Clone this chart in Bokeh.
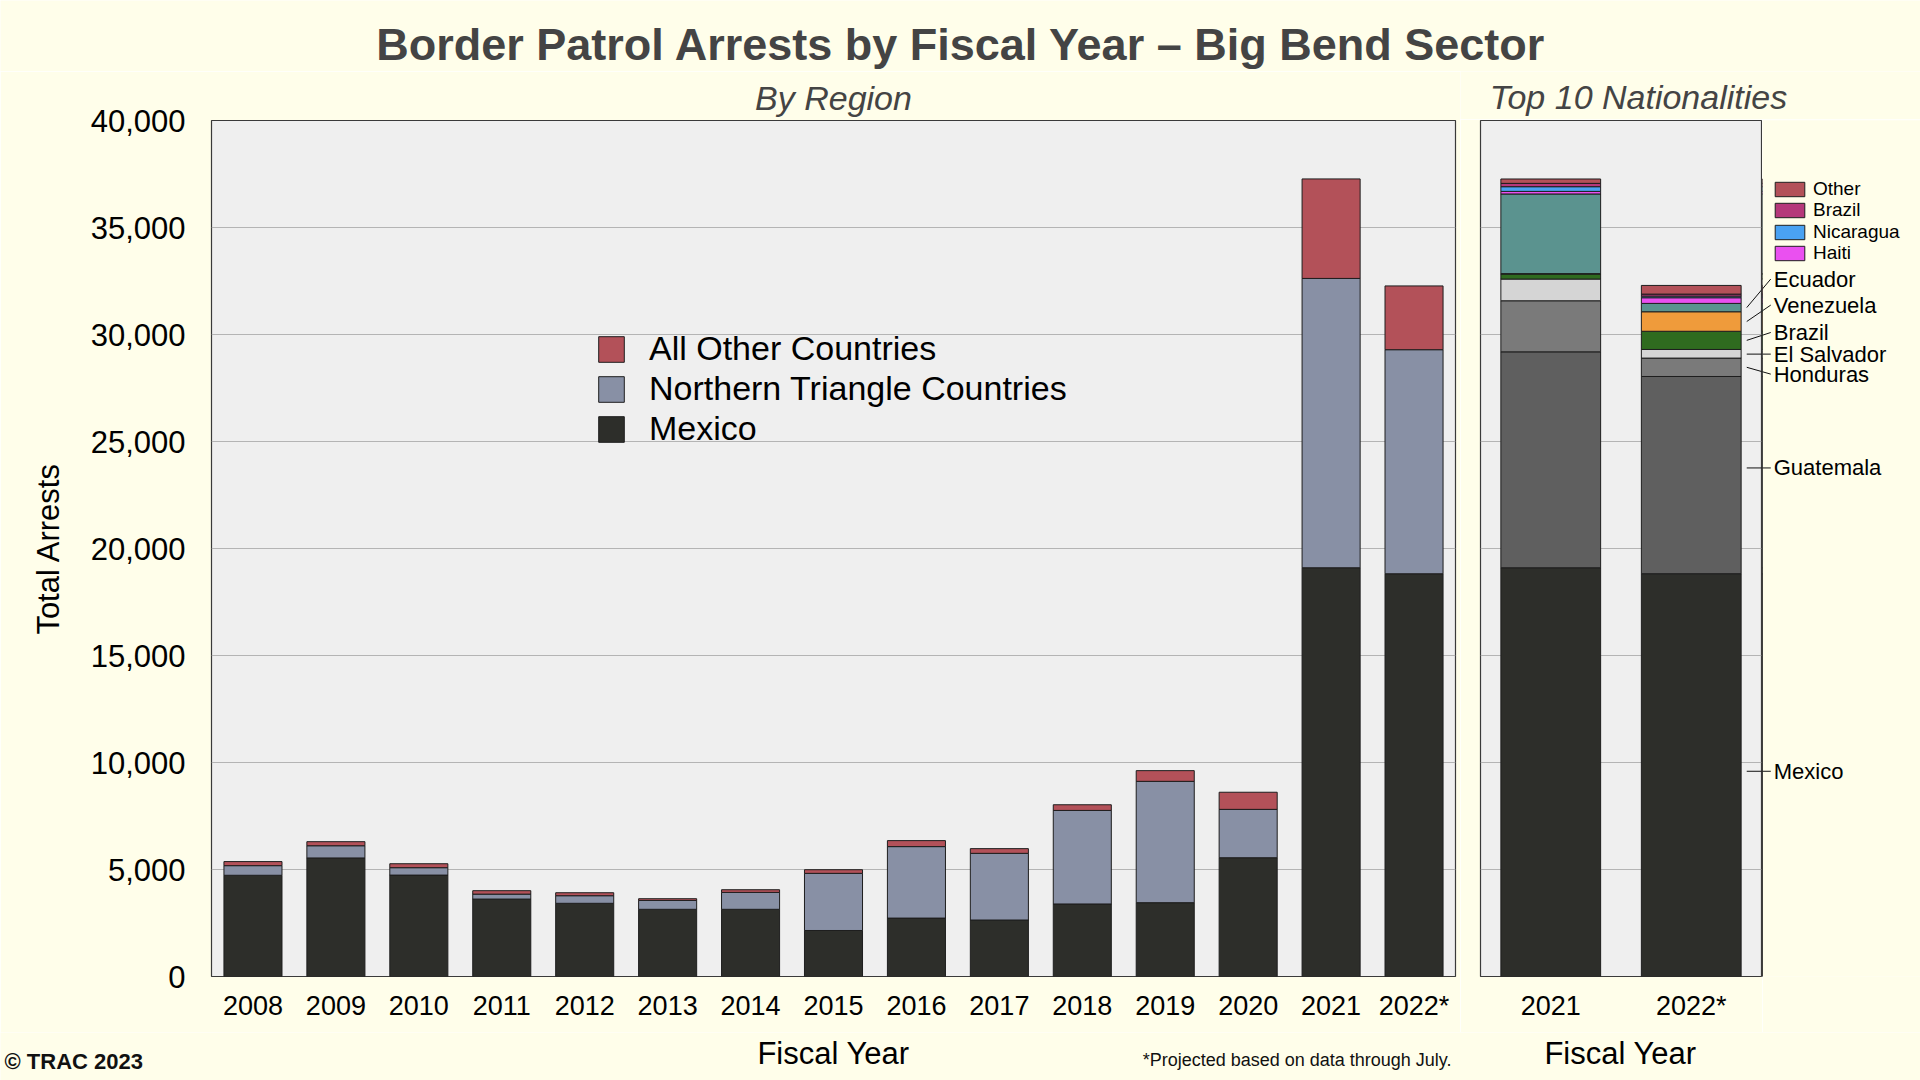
import numpy as np
from bokeh.plotting import figure
from bokeh.layouts import row, column
from bokeh.models import (Range1d, FixedTicker, NumeralTickFormatter, Legend,
                          LegendItem, Label, ColumnDataSource)
from bokeh.embed import file_html
from bokeh.resources import INLINE

# ---------------- data ----------------
years = ["2008", "2009", "2010", "2011", "2012", "2013", "2014", "2015",
         "2016", "2017", "2018", "2019", "2020", "2021", "2022*"]
mexico = [4730, 5540, 4740, 3620, 3420, 3140, 3140, 2150, 2730, 2640,
          3390, 3450, 5550, 19100, 18820]
northern_triangle = [450, 570, 345, 230, 355, 415, 790, 2670, 3340, 3115,
                     4370, 5670, 2260, 13520, 10470]
all_other = [190, 190, 185, 160, 140, 80, 125, 170, 280, 220,
             265, 500, 800, 4650, 2980]

top_years = ["2021", "2022*"]
nat_mexico = [19100, 18822]
nat_guatemala = [10090, 9216]
nat_honduras = [2386, 860]
nat_el_salvador = [1015, 402]
nat_brazil = [234, 851]
nat_venezuela = [20, 912]
nat_ecuador = [3722, 390]
nat_haiti = [120, 265]
nat_nicaragua = [220, 75]
nat_brazil_2 = [155, 95]
nat_other = [205, 405]

y_ticks = [0, 5000, 10000, 15000, 20000, 25000, 30000, 35000, 40000]

# ---------------- styles / layout ----------------
BG = "#fffeea"
PANEL = "#efefef"
GRID = "#b4b4b4"
FONT = "Liberation Sans"
region_colors = ["#2d2e2a", "#8890a5", "#b35159"]
nat_colors = ["#2d2e2a", "#5f5f5f", "#7a7a7a", "#d5d5d5", "#2f6b1f",
              "#ef9b3b", "#5b938f", "#ea50f0", "#4aa2f2", "#b5387a", "#b35159"]

TOTAL_W = 1920
TOP_H = 71           # main title strip
SUB_H = 48           # strip holding the right subtitle
FRAME_H = 856
BB = 56              # plot border bottom
FOOT_H = 48          # footer strip
P1_L, P1_FW, P1_R = 211, 1244, 5
P2_L, P2_FW, P2_R = 20, 281, 1
P1_W = P1_L + P1_FW + P1_R
P2_W = P2_L + P2_FW + P2_R
P4_W = TOTAL_W - P1_W - P2_W
P1_BT = SUB_H + 1
P2_BT = 1

yr = Range1d(0, 40000)


def strip(w, h):
    f = figure(width=w, height=h, x_range=Range1d(0, w), y_range=Range1d(0, h),
               output_backend="svg", toolbar_location=None,
               min_border_left=0, min_border_right=0, min_border_top=0, min_border_bottom=0,
               background_fill_color=BG, border_fill_color=BG, outline_line_color=None)
    f.axis.visible = False
    f.grid.visible = False
    return f


def lab(fig, x, y, text, size, style="normal", color="#000000", align="center"):
    fig.add_layout(Label(x=x, y=y, text=text, text_font=FONT, text_font_size=size,
                         text_font_style=style, text_color=color,
                         text_align=align, text_baseline="middle"))


# ---------------- title strip ----------------
p0 = strip(TOTAL_W, TOP_H)
lab(p0, 961, TOP_H - 44, "Border Patrol Arrests by Fiscal Year \u2013 Big Bend Sector",
    "45px", "bold", "#444444")

# ---------------- left: by region ----------------
p1 = figure(width=P1_W, height=P1_BT + FRAME_H + BB, x_range=Range1d(-0.5, 14.5), y_range=yr,
            output_backend="svg", toolbar_location=None,
            min_border_left=P1_L, min_border_right=P1_R, min_border_top=P1_BT,
            min_border_bottom=BB,
            background_fill_color=PANEL, border_fill_color=BG,
            outline_line_color="#3a3a3a", outline_line_width=1.2)
p1.title.text = "By Region"
p1.title.align = "center"
p1.title.text_font = FONT
p1.title.text_font_size = "34px"
p1.title.text_font_style = "italic"
p1.title.text_color = "#444444"
p1.title.standoff = 8

src1 = ColumnDataSource(dict(x=list(range(len(years))), mexico=mexico,
                             ntc=northern_triangle, other=all_other))
rs1 = p1.vbar_stack(["mexico", "ntc", "other"], x="x", width=0.70, source=src1,
                    fill_color=region_colors, line_color="#1e1e1e", line_width=1)

p1.xaxis.ticker = FixedTicker(ticks=list(range(len(years))))
p1.xaxis.major_label_overrides = {i: y for i, y in enumerate(years)}
p1.yaxis.ticker = FixedTicker(ticks=y_ticks)
p1.yaxis.formatter = NumeralTickFormatter(format="0,0")
for ax in (p1.xaxis, p1.yaxis):
    ax.axis_line_color = None
    ax.major_tick_line_color = None
    ax.minor_tick_line_color = None
    ax.major_tick_out = 0
    ax.major_label_text_font = FONT
    ax.major_label_text_color = "#000000"
p1.xaxis.major_label_text_font_size = "27px"
p1.xaxis.major_label_standoff = 14
p1.yaxis.major_label_text_font_size = "31px"
p1.yaxis.major_label_standoff = 26
p1.yaxis.axis_label = "Total Arrests"
p1.yaxis.axis_label_text_font = FONT
p1.yaxis.axis_label_text_font_size = "31px"
p1.yaxis.axis_label_text_font_style = "normal"
p1.yaxis.axis_label_text_color = "#000000"
p1.yaxis.axis_label_standoff = 22
p1.xgrid.grid_line_color = None
p1.ygrid.ticker = FixedTicker(ticks=y_ticks[1:-1])
p1.ygrid.grid_line_color = GRID

leg1 = Legend(items=[LegendItem(label="All Other Countries", renderers=[rs1[2]]),
                     LegendItem(label="Northern Triangle Countries", renderers=[rs1[1]]),
                     LegendItem(label="Mexico", renderers=[rs1[0]])],
              location=(384, 528), glyph_width=32, glyph_height=32, label_standoff=22,
              spacing=1, padding=0, margin=0, border_line_color=None,
              background_fill_alpha=0, label_text_font=FONT, label_text_font_size="34px",
              label_text_color="#000000")
p1.add_layout(leg1, "center")

# ---------------- right: top 10 nationalities ----------------
p5 = strip(P2_W + P4_W, SUB_H)
lab(p5, 1638 - P1_W, SUB_H - (96 - TOP_H), "Top 10 Nationalities", "34px", "italic", "#444444")

px_per_unit = P2_FW / 2.0
p2 = figure(width=P2_W, height=P2_BT + FRAME_H + BB, x_range=Range1d(-0.5, 1.5), y_range=yr,
            output_backend="svg", toolbar_location=None,
            min_border_left=P2_L, min_border_right=P2_R, min_border_top=P2_BT,
            min_border_bottom=BB,
            background_fill_color=PANEL, border_fill_color=BG,
            outline_line_color="#3a3a3a", outline_line_width=1.2)

nat_names = ["mexico", "guatemala", "honduras", "el_salvador", "brazil", "venezuela",
             "ecuador", "haiti", "nicaragua", "brazil_2", "other"]
nat_values = [nat_mexico, nat_guatemala, nat_honduras, nat_el_salvador, nat_brazil,
              nat_venezuela, nat_ecuador, nat_haiti, nat_nicaragua, nat_brazil_2, nat_other]
src2 = ColumnDataSource(dict(x=[0, 1], **{n: v for n, v in zip(nat_names, nat_values)}))
rs2 = p2.vbar_stack(nat_names, x="x", width=0.71, source=src2,
                    fill_color=nat_colors, line_color="#1e1e1e", line_width=1)

p2.yaxis.visible = False
p2.xaxis.ticker = FixedTicker(ticks=[0, 1])
p2.xaxis.major_label_overrides = {0: top_years[0], 1: top_years[1]}
p2.xaxis.axis_line_color = None
p2.xaxis.major_tick_line_color = None
p2.xaxis.minor_tick_line_color = None
p2.xaxis.major_tick_out = 0
p2.xaxis.major_label_text_font = FONT
p2.xaxis.major_label_text_font_size = "27px"
p2.xaxis.major_label_text_color = "#000000"
p2.xaxis.major_label_standoff = 14
p2.xgrid.grid_line_color = None
p2.ygrid.ticker = FixedTicker(ticks=y_ticks[1:-1])
p2.ygrid.grid_line_color = GRID

# ---------------- annotation strip right of the nationalities panel ----------------
x4_start = 1.5 + P2_R / px_per_unit
p4 = figure(width=P4_W, height=P2_BT + FRAME_H + BB,
            x_range=Range1d(x4_start, x4_start + P4_W / px_per_unit),
            y_range=yr, output_backend="svg", toolbar_location=None,
            min_border_left=0, min_border_right=0, min_border_top=P2_BT, min_border_bottom=BB,
            background_fill_color=BG, border_fill_color=BG, outline_line_color=None)
p4.axis.visible = False
p4.grid.visible = False

# the same stack, lying outside this strip's x range, gives the legend its swatches
rs4 = p4.vbar_stack(nat_names, x="x", width=0.71, source=src2,
                    fill_color=nat_colors, line_color="#1e1e1e", line_width=1)

# leader lines for the 2022* bar
cum22 = np.cumsum([v[1] for v in nat_values])
bottoms22 = np.concatenate([[0], cum22[:-1]])
mid22 = {n: bottoms22[i] + nat_values[i][1] / 2 for i, n in enumerate(nat_names)}
ann_text = ["Ecuador", "Venezuela", "Brazil", "El Salvador", "Honduras", "Guatemala", "Mexico"]
ann_key = ["ecuador", "venezuela", "brazil", "el_salvador", "honduras", "guatemala", "mexico"]
ann_label_y = [32592, 31375, 30094, 29083, 28148, 23764, 9590]
ann_slanted = [True, True, True, False, True, False, False]
line_x0, line_x1, text_x = 1.395, 1.566, 1.587
ann_src = ColumnDataSource(dict(
    x0=[line_x0] * len(ann_text), x1=[line_x1] * len(ann_text),
    y0=[mid22[k] if s else ly for k, s, ly in zip(ann_key, ann_slanted, ann_label_y)],
    y1=ann_label_y))
for f in (p2, p4):
    f.segment(x0="x0", y0="y0", x1="x1", y1="y1", source=ann_src,
              line_color="#111111", line_width=1)
for t, ly in zip(ann_text, ann_label_y):
    lab(p4, text_x, ly, t, "22px", align="left")

# legend of the thin top segments: one single-entry legend per row
leg_names = ["Other", "Brazil", "Nicaragua", "Haiti"]
leg_idx = [10, 9, 8, 7]
for k, (n, i) in enumerate(zip(leg_names, leg_idx)):
    lg = Legend(items=[LegendItem(label=n, renderers=[rs4[i]])],
                location=(9, 712 + (len(leg_names) - 1 - k) * 21.5),
                glyph_width=37, glyph_height=18, label_standoff=5,
                spacing=0, padding=0, margin=0, border_line_color=None,
                background_fill_alpha=0, label_text_font=FONT, label_text_font_size="19px",
                label_text_color="#000000")
    p4.add_layout(lg, "center")

# ---------------- footer strip ----------------
p3 = strip(TOTAL_W, FOOT_H)
lab(p3, 833, FOOT_H - 21, "Fiscal Year", "31px")
lab(p3, 1620, FOOT_H - 21, "Fiscal Year", "31px")
lab(p3, 4, FOOT_H - 29, "\u00a9 TRAC 2023", "22px", "bold", "#111111", align="left")
lab(p3, 1451, FOOT_H - 27, "*Projected based on data through July.", "18px",
    color="#111111", align="right")

layout = column(p0, row(p1, column(p5, row(p2, p4))), p3)
html = file_html(layout, INLINE, title="Border Patrol Arrests - Big Bend Sector")
html = html.replace("<body>", '<body style="background-color:#fffeea;">', 1)
open("out.html", "w").write(html)
